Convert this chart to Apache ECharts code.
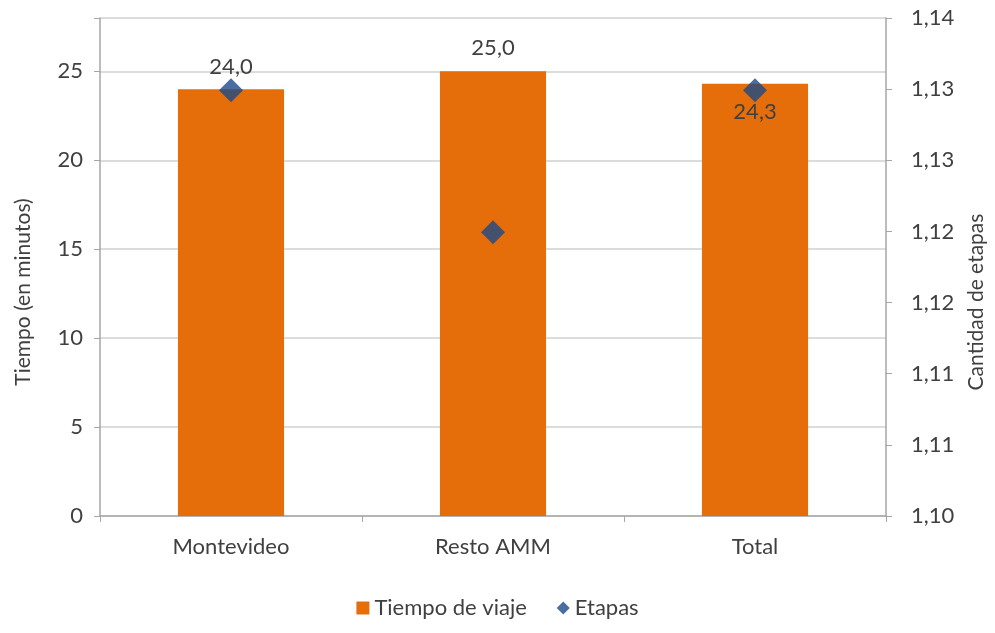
<!DOCTYPE html>
<html><head><meta charset="utf-8">
<script src="https://cdn.jsdelivr.net/npm/echarts@6/dist/echarts.min.js"></script>
<style>html,body{margin:0;padding:0;background:#fff}#c{width:995px;height:633px}</style>
</head><body><div id="c"></div>
<script>
const categories = ['Montevideo', 'Resto AMM', 'Total'];
const tiempoViaje = [24.0, 25.0, 24.3];
const etapas = [1.1342, 1.1228, 1.1342];
const leftTicks = [0, 5, 10, 15, 20, 25];
const rightMin = 1.10, rightMax = 1.14, rightSteps = 7;

const font = 'Lato, "Open Sans", sans-serif';
const txt = '#404040';
const labelPos = ['top', 'top', 'insideTop'];
const labelDist = [11, 12, 17];

const chart = echarts.init(document.getElementById('c'), null, {renderer: 'canvas'});
chart.setOption({
  animation: false,
  textStyle: {fontFamily: font},
  grid: {left: 100, right: 103, top: 18, bottom: 117, containLabel: false},
  legend: {
    top: 592, left: 'center', itemGap: 30, itemWidth: 13, itemHeight: 13,
    textStyle: {fontFamily: font, fontSize: 22, color: txt},
    data: [{name: 'Tiempo de viaje', icon: 'rect'}, {name: 'Etapas', icon: 'diamond'}]
  },
  xAxis: {
    type: 'category', data: categories,
    axisLine: {lineStyle: {color: '#A6A6A6', width: 1.5}},
    axisTick: {show: true, length: 6, inside: false, lineStyle: {color: '#A6A6A6'}},
    axisLabel: {fontFamily: font, fontSize: 22, color: txt, margin: 20}
  },
  yAxis: [{
    type: 'value', min: 0, max: 28, interval: 5,
    name: 'Tiempo (en minutos)', nameLocation: 'middle', nameGap: 66,
    nameTextStyle: {fontFamily: font, fontSize: 21, color: txt, padding: [0, 50, 0, 0]},
    axisLine: {show: true, lineStyle: {color: '#A6A6A6', width: 1.5}},
    axisTick: {show: true, length: 6, lineStyle: {color: '#A6A6A6'}},
    axisLabel: {fontFamily: font, fontSize: 22, color: txt, margin: 17,
      formatter: v => leftTicks.includes(v) ? String(v) : ''},
    splitLine: {show: true, lineStyle: {color: '#D0D0D0', width: 1.5}}
  }, {
    type: 'value', min: rightMin, max: rightMax, interval: (rightMax - rightMin) / rightSteps,
    position: 'right',
    name: 'Cantidad de etapas', nameLocation: 'middle', nameGap: 80,
    nameTextStyle: {fontFamily: font, fontSize: 21, color: txt, padding: [0, 70, 0, 0]},
    axisLine: {show: true, lineStyle: {color: '#A6A6A6', width: 1.5}},
    axisTick: {show: true, length: 6, lineStyle: {color: '#A6A6A6'}},
    axisLabel: {fontFamily: font, fontSize: 22, color: txt, margin: 25,
      formatter: v => v.toFixed(2).replace('.', ',')},
    splitLine: {show: false}
  }],
  series: [{
    name: 'Tiempo de viaje', type: 'bar', yAxisIndex: 0, barWidth: '40.5%',
    itemStyle: {color: '#E66E0A'},
    data: tiempoViaje.map((v, i) => ({
      value: v,
      label: {show: true, position: labelPos[i], distance: labelDist[i],
        fontFamily: font, fontSize: 22, color: txt,
        formatter: p => p.value.toFixed(1).replace('.', ',')}
    }))
  }, {
    name: 'Etapas', type: 'scatter', yAxisIndex: 1, symbol: 'diamond', symbolSize: 24,
    itemStyle: {color: '#1B4A87'},
    data: etapas
  }]
});
</script></body></html>
